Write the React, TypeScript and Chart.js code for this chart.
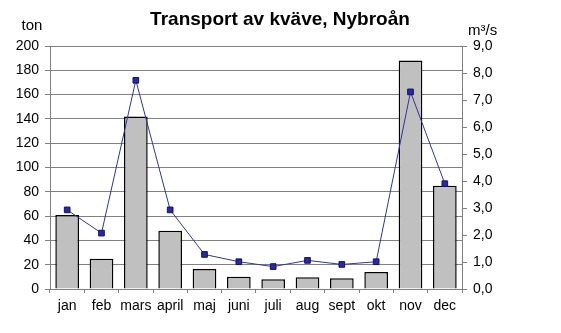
import React, { useEffect, useRef } from "react";
import { Chart, registerables } from "chart.js";

Chart.register(...registerables);

const months = ["jan", "feb", "mars", "april", "maj", "juni", "juli", "aug", "sept", "okt", "nov", "dec"];
const nitrogenTon = [61, 25, 142, 48, 16.5, 10, 8, 9.6, 8.8, 14, 188, 85];
const flowM3s = [2.93, 2.07, 7.73, 2.93, 1.28, 1.01, 0.83, 1.06, 0.91, 1.01, 7.3, 3.9];
const titleText = "Transport av kväve, Nybroån";
const leftUnit = "ton";
const rightUnit = "m³/s";

const FONT = "'Liberation Sans', Arial, sans-serif";

export default function App() {
  const ref = useRef<HTMLCanvasElement | null>(null);
  useEffect(() => {
    if (!ref.current) return;
    const textPlugin = {
      id: "texts",
      afterDraw(chart: any) {
        const ctx = chart.ctx;
        ctx.save();
        ctx.fillStyle = "#000";
        ctx.textBaseline = "middle";
        ctx.textAlign = "center";
        ctx.font = `bold 19px ${FONT}`;
        ctx.fillText(titleText, 280, 20);
        ctx.font = `15px ${FONT}`;
        ctx.fillText(leftUnit, 32, 26);
        ctx.textAlign = "left";
        ctx.fillText(rightUnit, 468, 31);
        ctx.restore();
      },
    };
    const chart = new Chart(ref.current, {
      type: "bar",
      data: {
        labels: months,
        datasets: [
          {
            type: "line",
            data: flowM3s,
            yAxisID: "y1",
            borderColor: "#333399",
            borderWidth: 1,
            backgroundColor: "#22229a",
            pointStyle: "rect",
            pointRadius: 4,
            pointBorderColor: "#111166",
            pointBorderWidth: 1,
            pointBackgroundColor: "#2a2aa0",
            order: 0,
          } as any,
          {
            type: "bar",
            data: nitrogenTon,
            yAxisID: "y",
            backgroundColor: "#c0c0c0",
            borderColor: "#000000",
            borderWidth: 1.5,
            categoryPercentage: 1,
            barPercentage: 0.69,
            order: 1,
          },
        ],
      },
      options: {
        animation: false,
        responsive: false,
        maintainAspectRatio: false,
        layout: { padding: { left: 0, right: 49, top: 46, bottom: 0 } },
        plugins: { legend: { display: false }, tooltip: { enabled: false }, title: { display: false } },
        scales: {
          x: {
            offset: true,
            grid: { offset: true, drawOnChartArea: false, color: "#808080", tickLength: 4 },
            border: { color: "#808080" },
            ticks: { color: "#000", font: { family: FONT, size: 14 }, padding: 5, maxRotation: 0, autoSkip: false },
            afterFit(scale: any) { scale.height = 44; },
          },
          y: {
            position: "left",
            min: 0,
            max: 200,
            grid: { color: "#808080", tickLength: 5 },
            border: { color: "#808080" },
            ticks: { stepSize: 20, color: "#000", font: { family: FONT, size: 14 }, padding: 6 },
            afterFit(scale: any) { scale.width = 50; },
          },
          y1: {
            position: "right",
            min: 0,
            max: 9,
            grid: { drawOnChartArea: false, color: "#808080", tickLength: 5 },
            border: { color: "#808080" },
            ticks: {
              stepSize: 1,
              color: "#000",
              font: { family: FONT, size: 14 },
              padding: 6,
              callback: (v: any) => Number(v).toFixed(1).replace(".", ","),
            },
            afterFit(scale: any) { scale.width = 50; },
          },
        },
      },
      plugins: [textPlugin],
    });
    return () => chart.destroy();
  }, []);
  return (
    <div style={{ position: "fixed", left: 0, top: 0, width: 561, height: 333, background: "#fff" }}>
      <canvas ref={ref} width={561} height={333} style={{ width: 561, height: 333 }} />
    </div>
  );
}
